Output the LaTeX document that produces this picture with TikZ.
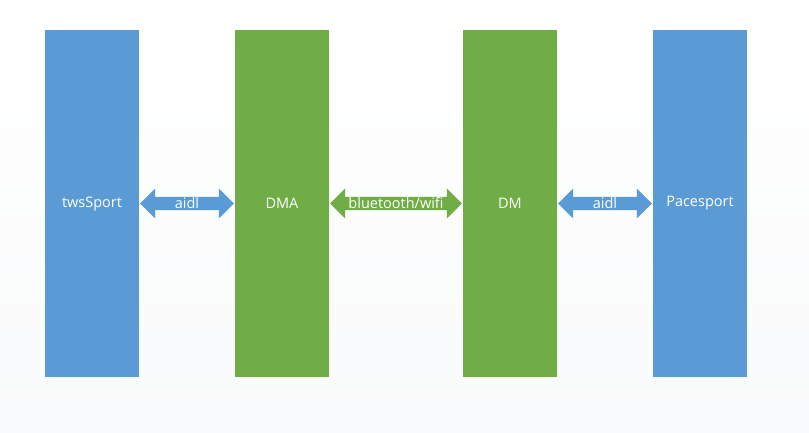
\documentclass[tikz,border=0pt]{standalone}
\usepackage{fontspec}
\setmainfont{Open Sans}
\usetikzlibrary{calc}
\definecolor{boxblue}{HTML}{5B9BD5}
\definecolor{boxgreen}{HTML}{70AD47}
\definecolor{bgback}{HTML}{F9FAFB}
\tikzset{
  block/.style = {minimum width=94pt, minimum height=347pt, inner sep=0pt,
                  text=white, font=\fontsize{14.5}{17}\selectfont},
  linklabel/.style = {text=white, inner sep=1pt, font=\fontsize{14.5}{17}\selectfont}
}
% block arrow with two heads: start, end, colour
\newcommand{\blockarrow}[3]{%
  \fill[#3] (#1) -- ++(15,-15) -- ++(0,8.5) -- ($(#2)+(-15,-6.5)$) -- ++(0,-8.5) -- (#2)
            -- ++(-15,15) -- ++(0,-8.5) -- ($(#1)+(15,6.5)$) -- ++(0,8.5) -- cycle;}
\begin{document}
\begin{tikzpicture}[x=1pt, y=-1pt]
  \shade[top color=white, bottom color=bgback] (0,0) rectangle (809,433);
  \useasboundingbox (0,0) rectangle (809,433);
  % the four blocks
  \node[block, fill=boxblue]  (tws)  at (92,203.5)  {twsSport};
  \node[block, fill=boxgreen] (dma)  at (282,203.5) {DMA};
  \node[block, fill=boxgreen] (dm)   at (510,203.5) {DM};
  \node[block, fill=boxblue]  (pace) at (700,203.5) {Pacesport};
  % links
  \blockarrow{$(tws.east)+(1,0)$}{$(dma.west)+(-1,0)$}{boxblue}
  \blockarrow{$(dma.east)+(1,0)$}{$(dm.west)+(-1,0)$}{boxgreen}
  \blockarrow{$(dm.east)+(1,0)$}{$(pace.west)+(-1,0)$}{boxblue}
  \node[linklabel] (aidlA) at ($(tws.east)!0.5!(dma.west)$) {aidl};
  \node[linklabel] (bt)    at ($(dma.east)!0.5!(dm.west)$)  {bluetooth/wifi};
  \node[linklabel] (aidlB) at ($(dm.east)!0.5!(pace.west)$) {aidl};
\end{tikzpicture}
\end{document}
